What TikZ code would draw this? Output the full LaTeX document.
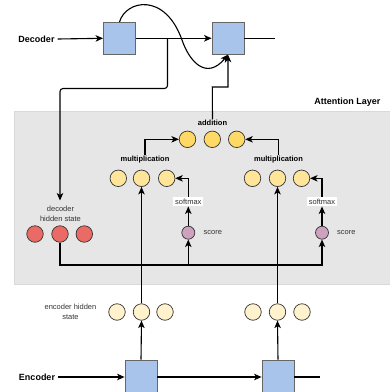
\documentclass[tikz,border=0pt]{standalone}
\usepackage{fontspec}
\setmainfont{Liberation Sans}
\usetikzlibrary{arrows.meta,calc}
\definecolor{boxblue}{HTML}{A9C4EB}
\definecolor{gold}{HTML}{FFD966}
\definecolor{lgold}{HTML}{FFE599}
\definecolor{pale}{HTML}{FFF2CC}
\definecolor{redc}{HTML}{EA6B66}
\definecolor{purp}{HTML}{CDA2BE}
\definecolor{layer}{HTML}{E6E6E6}
\definecolor{txt}{HTML}{333333}
\tikzset{
  cell/.style={draw=black!60, fill=boxblue, minimum width=32pt, minimum height=32pt, inner sep=0pt, line width=0.8pt},
  dot/.style={circle, draw=black!80, line width=0.7pt, minimum size=16.5pt, inner sep=0pt},
  sdot/.style={circle, draw=black!80, line width=0.7pt, fill=purp, minimum size=13pt, inner sep=0pt},
  big/.style={font=\fontsize{9}{10}\selectfont\bfseries, inner sep=1pt},
  mid/.style={font=\fontsize{7.5}{9}\selectfont\bfseries, inner sep=1pt},
  small/.style={font=\fontsize{7.5}{10}\selectfont, text=txt, inner sep=1pt, align=center},
  conn/.style={line width=1.1pt, draw=black},
  arr/.style={conn, -{Stealth[length=7.5pt,width=6.5pt,inset=2pt]}},
}
\begin{document}
\begin{tikzpicture}[x=1pt,y=-1pt]
\useasboundingbox (0,0) rectangle (390,392);
% attention layer
\path[fill=layer, draw=black!15, line width=0.6pt] (14,111.5) rectangle (400,284);
\node[big] (att) at (347.5,102.5) {Attention Layer};

% decoder
\node[big] (dec) at (36.5,39) {Decoder};
\node[cell] (d1) at (119.5,38.3) {};
\node[cell] (d2) at (228,38.3) {};
\coordinate (dout) at (275,38.3);
\coordinate (djn) at (167.5,38.3);
\draw[arr] (dec.east)++(2,0) -- (d1.west);
\draw[arr] (d1.east) -- (d2.west);
\draw[conn] (d2.east) -- (dout);

% encoder
\node[big] (enc) at (37,377) {Encoder};
\node[cell] (e1) at (141,376) {};
\node[cell] (e2) at (278,376) {};
\coordinate (eout) at (320,377);
\draw[arr] (enc.east)++(2,0) -- (e1.west |- enc.east);
\draw[arr] (e1.east |- enc.east) -- (e2.west |- enc.east);
\draw[conn] (e2.east |- enc.east) -- (eout);

% encoder hidden states
\node[small] (ehs) at (70.5,311.5) {encoder hidden\\state};
\node[dot, fill=pale] (h1) at (117,312) {};
\node[dot, fill=pale] (h2) at (141.5,312) {};
\node[dot, fill=pale] (h3) at (165,312) {};
\node[dot, fill=pale] (g1) at (253,312) {};
\node[dot, fill=pale] (g2) at (277.5,312) {};
\node[dot, fill=pale] (g3) at (302,312) {};
\draw[arr] (e1.north) -- (h2.south);
\draw[arr] (e2.north) -- (g2.south);

% multiplication groups
\node[mid] (mL) at (145,160) {multiplication};
\node[dot, fill=lgold] (m1) at (118.3,178.3) {};
\node[dot, fill=lgold] (m2) at (141.5,178.3) {};
\node[dot, fill=lgold] (m3) at (166.7,178.3) {};
\node[mid] (mR) at (278.5,160) {multiplication};
\node[dot, fill=lgold] (n1) at (252.5,178.3) {};
\node[dot, fill=lgold] (n2) at (277.5,178.3) {};
\node[dot, fill=lgold] (n3) at (301.5,178.3) {};
\draw[arr] (h2.north) -- (m2.south);
\draw[arr] (g2.north) -- (n2.south);

% addition
\node[mid] (add) at (212.5,123) {addition};
\node[dot, fill=gold] (a1) at (187.5,139.3) {};
\node[dot, fill=gold] (a2) at (212.3,139.3) {};
\node[dot, fill=gold] (a3) at (236.7,139.3) {};
\draw[arr] (mL.north) |- (a1.west);
\draw[arr] (mR.north) |- (a3.east);

% softmax and score
\node[small, fill=white, inner xsep=2pt, inner ysep=2pt] (smL) at (188.3,201.5) {softmax};
\node[small, fill=white, inner xsep=2pt, inner ysep=2pt] (smR) at (322,201.5) {softmax};
\node[sdot] (sL) at (188.3,232.7) {};
\node[sdot] (sR) at (322,232.7) {};
\node[small, anchor=west] (scL) at (202.5,232.7) {score};
\node[small, anchor=west] (scR) at (336,232.7) {score};
\draw[arr] (sL.north) -- (smL.south);
\draw[arr] (sR.north) -- (smR.south);
\draw[arr] (smL.north) |- (m3.east);
\draw[arr] (smR.north) |- (n3.east);

% decoder hidden state
\node[small] (dhs) at (60.5,214.3) {decoder\\hidden state};
\node[dot, fill=redc] (r1) at (35,234) {};
\node[dot, fill=redc] (r2) at (60,234) {};
\node[dot, fill=redc] (r3) at (84.3,234) {};
\coordinate (jL) at (188.3,265);
\coordinate (jR) at (322,265);
\draw[arr] (r2.south) |- (jR) -- (sR.south);
\draw[arr] (jL) -- (sL.south);

% decoder to decoder hidden state
\coordinate (dc1) at (167.5,88.5);
\coordinate (dc2) at (60,88.5);
\coordinate (dtip) at (60,200.5);
\draw[arr, rounded corners=3pt] (djn) -- (dc1) -- (dc2) -- (dtip);

% addition to decoder cell
\coordinate (ac1) at (212.3,87);
\coordinate (ac2) at (228,87);
\draw[arr] (add.north) -- (ac1) -- (ac2) -- (d2.south);

% curved connection
\coordinate (cm) at (182,40);
\draw[arr] (d1.north) .. controls (126,0) and (165,-8) .. (cm) .. controls (190,63) and (207,80) .. (d2.south);
\end{tikzpicture}
\end{document}
